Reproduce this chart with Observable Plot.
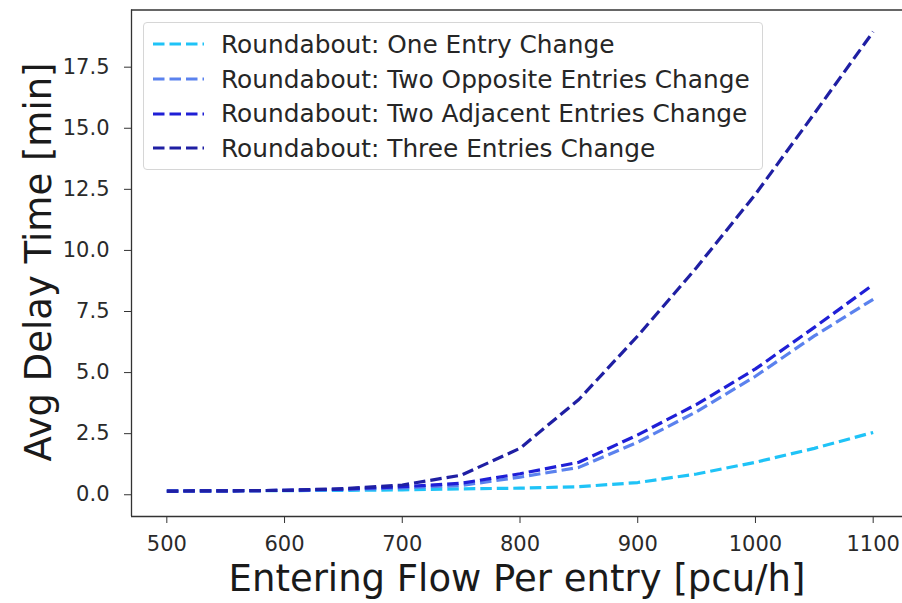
<!DOCTYPE html>
<html>
<head>
<meta charset="utf-8">
<script src="https://cdn.jsdelivr.net/npm/d3@7"></script>
<script src="https://cdn.jsdelivr.net/npm/@observablehq/plot@0.6"></script>
<style>
  html, body { margin: 0; padding: 0; background: #fff; }
  #chart { position: relative; width: 902px; height: 603px; overflow: hidden; font-family: "DejaVu Sans", sans-serif; }
  #legend {
    position: absolute; left: 143px; top: 22px; width: 620px; height: 148px;
    box-sizing: border-box; border: 1px solid #d6d6d6; border-radius: 4px;
    background: rgba(255,255,255,0.85); padding: 4px 0 0 8px;
  }
  .row { display: flex; align-items: center; height: 34.7px; }
  .row svg { flex: none; margin-right: 17px; }
  .row span { font-size: 24.8px; color: #262626; white-space: nowrap; }
</style>
</head>
<body>
<div id="chart"></div>
<script>
// Entering flow per entry (pcu/h)
const flow = [500, 550, 600, 650, 700, 750, 800, 850, 900, 950, 1000, 1050, 1100];

// Average delay time (min) for each roundabout scenario
const oneEntry      = [0.15, 0.16, 0.17, 0.18, 0.20, 0.24, 0.27, 0.33, 0.50, 0.85, 1.33, 1.90, 2.55];
const twoOpposite   = [0.15, 0.16, 0.18, 0.21, 0.28, 0.38, 0.72, 1.12, 2.15, 3.40, 4.85, 6.50, 8.00];
const twoAdjacent   = [0.15, 0.16, 0.18, 0.23, 0.33, 0.47, 0.86, 1.33, 2.45, 3.70, 5.15, 6.85, 8.60];
const threeEntries  = [0.15, 0.16, 0.18, 0.25, 0.40, 0.80, 1.90, 3.90, 6.50, 9.30, 12.30, 15.60, 18.95];

const seriesNames = [
  "Roundabout: One Entry Change",
  "Roundabout: Two Opposite Entries Change",
  "Roundabout: Two Adjacent Entries Change",
  "Roundabout: Three Entries Change"
];
const seriesColors = ["#1fc3f7", "#5b82ee", "#1f1fd6", "#1f1fa3"];
const seriesValues = [oneEntry, twoOpposite, twoAdjacent, threeEntries];

const xTicks = [500, 600, 700, 800, 900, 1000, 1100];
const yTicks = [0, 2.5, 5, 7.5, 10, 12.5, 15, 17.5];

const rows = seriesNames.flatMap((name, i) =>
  flow.map((f, j) => ({series: name, flow: f, delay: seriesValues[i][j]}))
);

const dash = "11.5,5";
const xDomain = [470, 1130];
const yDomain = [-0.89, 19.84];

const plot = Plot.plot({
  width: 902,
  height: 603,
  marginLeft: 131,
  marginRight: -6,
  marginTop: 9.5,
  marginBottom: 87,
  style: {fontFamily: "DejaVu Sans, sans-serif", background: "transparent", overflow: "visible"},
  x: {domain: xDomain, range: [131, 908]},
  y: {domain: yDomain, range: [516, 9.5]},
  color: {domain: seriesNames, range: seriesColors},
  marks: [
    Plot.lineY(rows, {
      x: "flow", y: "delay", z: "series", stroke: "series",
      strokeWidth: 3.2, strokeDasharray: dash, strokeLinecap: "butt",
      strokeLinejoin: "round", curve: "linear"
    }),
    // axes frame (spines)
    Plot.ruleX([xDomain[0], xDomain[1]], {stroke: "#333", strokeWidth: 1.3}),
    Plot.ruleY([yDomain[0], yDomain[1]], {stroke: "#333", strokeWidth: 1.3}),
    Plot.axisX(xTicks, {
      tickSize: 7, tickPadding: 13, fontSize: 21, color: "#2a2a2a", stroke: "#333",
      tickFormat: d => String(d), label: null
    }),
    Plot.axisY(yTicks, {
      tickSize: 7, tickPadding: 15, fontSize: 21, color: "#2a2a2a", stroke: "#333",
      tickFormat: d => d.toFixed(1), label: null
    })
  ]
});

const chart = document.getElementById("chart");
chart.appendChild(plot);

// Axis titles
const svg = d3.select(plot);
svg.append("text")
  .attr("x", 517).attr("y", 591)
  .attr("text-anchor", "middle")
  .attr("font-size", 37).attr("fill", "#1a1a1a")
  .attr("font-family", "DejaVu Sans, sans-serif")
  .text("Entering Flow Per entry [pcu/h]");
svg.append("text")
  .attr("transform", "translate(51,262) rotate(-90)")
  .attr("text-anchor", "middle")
  .attr("font-size", 37).attr("fill", "#1a1a1a")
  .attr("font-family", "DejaVu Sans, sans-serif")
  .text("Avg Delay Time [min]");

// Legend
const legend = document.createElement("div");
legend.id = "legend";
seriesNames.forEach((name, i) => {
  const row = document.createElement("div");
  row.className = "row";
  const s = d3.create("svg").attr("width", 52).attr("height", 10);
  s.append("line").attr("x1", 1).attr("x2", 52).attr("y1", 5).attr("y2", 5)
    .attr("stroke", seriesColors[i]).attr("stroke-width", 3.2)
    .attr("stroke-dasharray", dash);
  row.appendChild(s.node());
  const t = document.createElement("span");
  t.textContent = name;
  row.appendChild(t);
  legend.appendChild(row);
});
chart.appendChild(legend);
</script>
</body>
</html>
